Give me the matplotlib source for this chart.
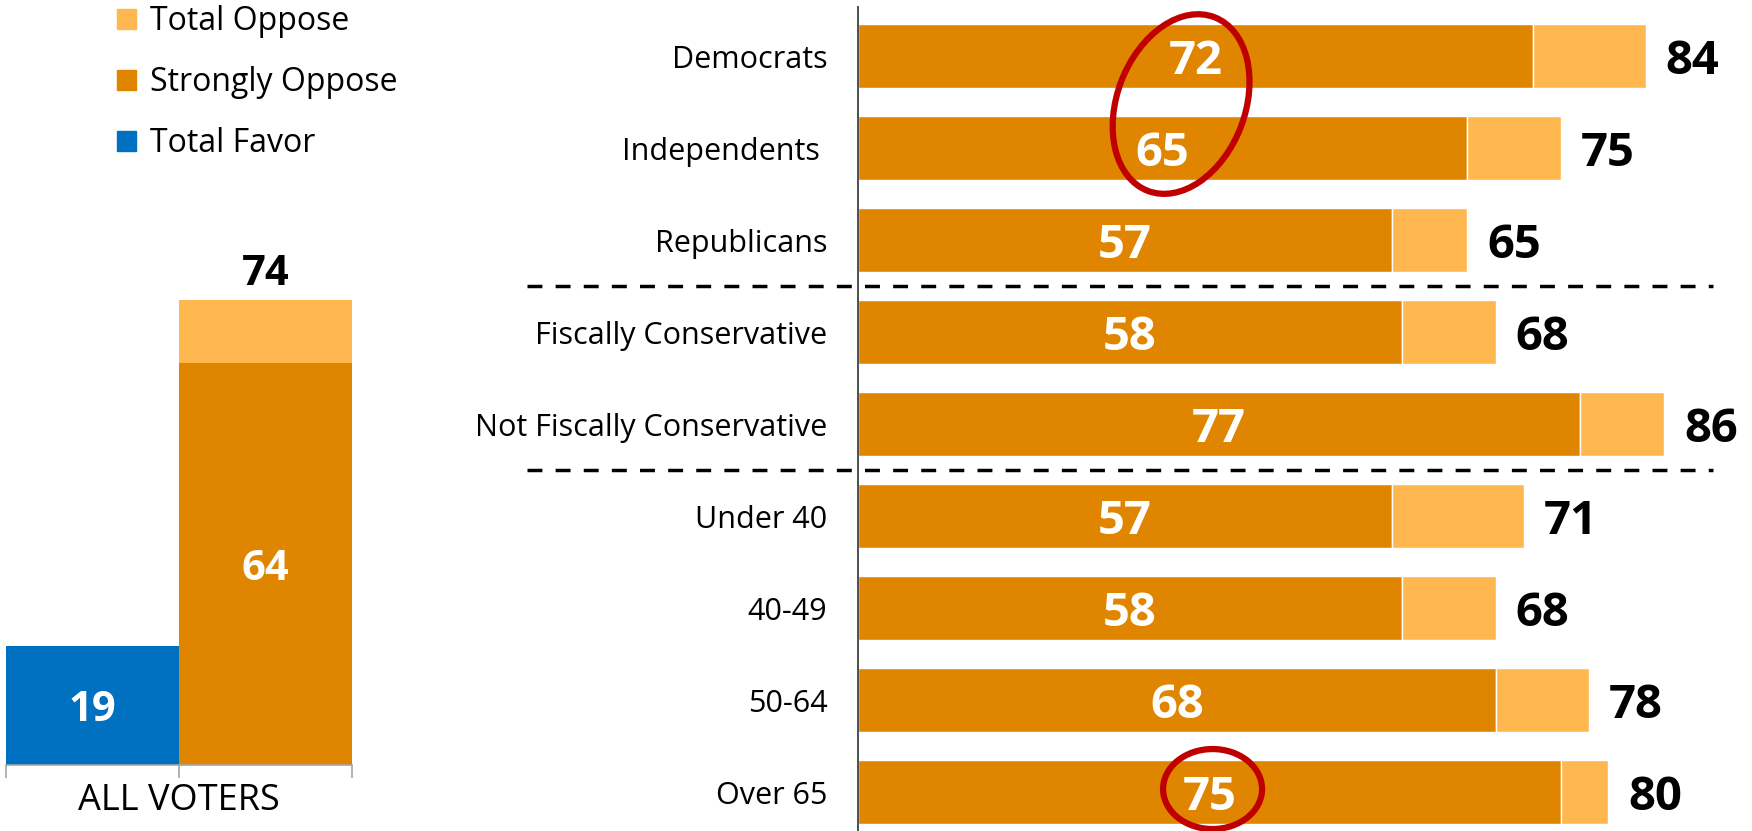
import matplotlib
matplotlib.use("Agg")
import matplotlib.pyplot as plt
from matplotlib.patches import Patch, Ellipse
from matplotlib.transforms import Affine2D, blended_transform_factory

plt.rcParams['font.family'] = 'Open Sans'

# All voters column
all_favor = 19
all_strong = 64
all_total = 74

# Breakdown by group
groups = ["Democrats", "Independents ", "Republicans", "Fiscally Conservative",
          "Not Fiscally Conservative", "Under 40", "40-49", "50-64", "Over 65"]
strongly_oppose = [72, 65, 57, 58, 77, 57, 58, 68, 75]
total_oppose = [84, 75, 65, 68, 86, 71, 68, 78, 80]

BLUE = '#0070C0'
DARK = '#DF8500'
LIGHT = '#FFB74F'
RED = '#C00000'

W, H = 1752, 831
fig = plt.figure(figsize=(W / 100, H / 100), dpi=100)


def px_axes(left, top, right, bottom):
    # axes box given in pixels measured from the top-left corner
    return fig.add_axes([left / W, 1 - bottom / H, (right - left) / W, (bottom - top) / H])


# ---- left panel: all voters ----
axl = px_axes(6, 137, 352, 765)
axl.bar(0, all_favor, width=1, color=BLUE)
axl.bar(1, all_strong, width=1, color=DARK)
axl.bar(1, all_total - all_strong, bottom=all_strong, width=1, color=LIGHT)
axl.set_xlim(-0.5, 1.5)
axl.set_ylim(0, 100)
for s in ['top', 'right', 'left']:
    axl.spines[s].set_visible(False)
axl.spines['bottom'].set_color('#A6A6A6')
axl.spines['bottom'].set_linewidth(1.2)
axl.set_yticks([])
axl.set_xticks([-0.5, 0.5, 1.5])
axl.set_xticklabels([])
axl.tick_params(axis='x', length=9.5, width=1.2, color='#A6A6A6')

trans = blended_transform_factory(axl.transData, axl.transAxes)
axl.text(0.5, -0.057, 'ALL VOTERS', transform=trans, ha='center', va='center', fontsize=26)
axl.text(0, all_favor / 2, str(all_favor), ha='center', va='center_baseline',
         color='white', fontsize=30, fontweight='bold')
axl.text(1, all_strong / 2, str(all_strong), ha='center', va='center_baseline',
         color='white', fontsize=30, fontweight='bold')
axl.annotate(str(all_total), (1, all_total), xytext=(0, 11), textcoords='offset points',
             ha='center', va='baseline', fontsize=30, fontweight='bold')

# legend
handles = [Patch(color=LIGHT, label='Total Oppose'),
           Patch(color=DARK, label='Strongly Oppose'),
           Patch(color=BLUE, label='Total Favor')]
fig.legend(handles=handles, loc='upper left', bbox_to_anchor=(117 / W, 1 - 5 / H),
           frameon=False, fontsize=23, handlelength=0.58, handleheight=0.58,
           handletextpad=0.44, labelspacing=0.88, borderpad=0, borderaxespad=0)

# ---- right panel: groups ----
axr = px_axes(858, 7, 1752, 831)
ypos = list(range(len(groups)))
widths = [t - s for s, t in zip(strongly_oppose, total_oppose)]
axr.barh(ypos, strongly_oppose, height=0.69, color=DARK, edgecolor='white', linewidth=1)
axr.barh(ypos, widths, left=strongly_oppose, height=0.69, color=LIGHT,
         edgecolor='white', linewidth=1)
axr.set_xlim(0, (1752 - 858) / 9.375)
axr.set_ylim(-0.533 + 824 / 92, -0.533)
for s in ['top', 'right', 'bottom']:
    axr.spines[s].set_visible(False)
axr.spines['left'].set_color('#404040')
axr.spines['left'].set_linewidth(1.3)
axr.set_xticks([])
axr.set_yticks(ypos)
axr.set_yticklabels(groups, fontsize=22)
axr.tick_params(axis='y', length=0, pad=22)

for i in ypos:
    axr.text(strongly_oppose[i] / 2, i, str(strongly_oppose[i]), ha='center',
             va='center_baseline', color='white', fontsize=34, fontweight='bold')
    axr.annotate(str(total_oppose[i]), (total_oppose[i], i), xytext=(14.4, 0),
                 textcoords='offset points', ha='left', va='center_baseline',
                 fontsize=34, fontweight='bold')

# dashed separators between the group blocks
for y in [2.5, 4.5]:
    axr.plot([-35.3, 91.2], [y, y], color='black', lw=2.5, dashes=(4.3, 3.8),
             clip_on=False)

# red highlight rings
cx = (strongly_oppose[0] / 2 + strongly_oppose[1] / 2) / 2
px, py = axr.transData.transform((cx, 0.5))
ring1 = Ellipse((0, 0), width=128, height=186, angle=-21, fill=False, ec=RED, lw=4.5,
                transform=Affine2D().translate(px + 2, py - 2))
fig.add_artist(ring1)
px, py = axr.transData.transform((strongly_oppose[8] / 2, 8))
ring2 = Ellipse((0, 0), width=99, height=80, fill=False, ec=RED, lw=4.5,
                transform=Affine2D().translate(px + 3, py + 3))
fig.add_artist(ring2)

fig.savefig('out.png', dpi=100)
